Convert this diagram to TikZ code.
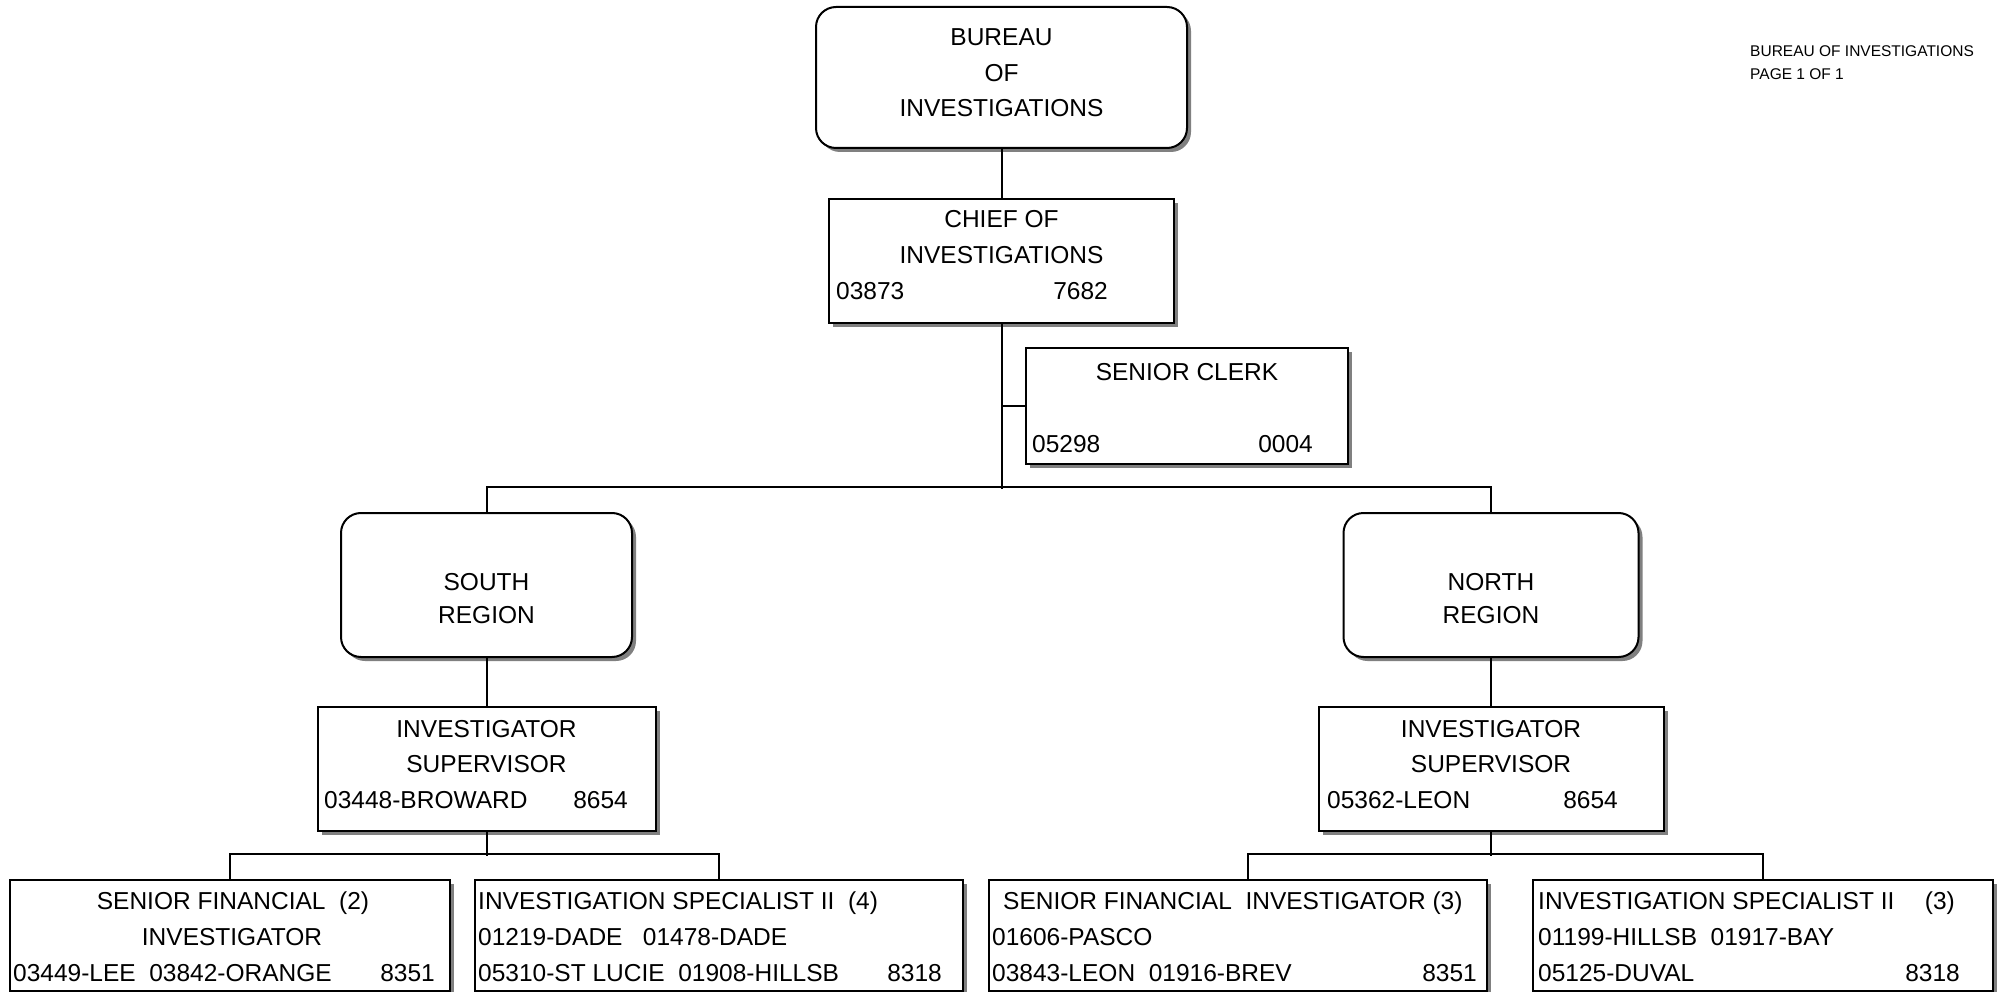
\documentclass[tikz,border=0pt]{standalone}
\usepackage{fontspec}
\setmainfont{Liberation Sans}
\usetikzlibrary{shadows}
\newcommand{\lblfont}{\fontsize{24.5}{35}\selectfont}
\newcommand{\smallfont}{\fontsize{15.5}{20}\selectfont}
\tikzset{
  box/.style={draw, line width=2pt, fill=white, inner sep=0pt,
    drop shadow={fill=black!50, opacity=1, shadow xshift=4pt, shadow yshift=-4pt}},
  rbox/.style={box, rounded corners=20pt},
  lbl/.style={inner sep=0pt, font=\lblfont},
  note/.style={inner sep=0pt, font=\smallfont, anchor=base west},
  wire/.style={line width=2pt},
}
\begin{document}
\begin{tikzpicture}[x=1pt,y=-1pt]
\useasboundingbox (0,0) rectangle (2005,992);

% boxes
\node[rbox, minimum width=371, minimum height=141] (bureau) at (1001.5,77.5) {};
\node[box, minimum width=345, minimum height=124] (chief) at (1001.5,261) {};
\node[box, minimum width=322, minimum height=116] (clerk) at (1187,406) {};
\node[rbox, minimum width=291, minimum height=144] (sreg) at (486.5,585) {};
\node[rbox, minimum width=295, minimum height=144] (nreg) at (1491,585) {};
\node[box, minimum width=338, minimum height=124] (ssup) at (486.5,769) {};
\node[box, minimum width=345, minimum height=124] (nsup) at (1491,769) {};
\node[box, minimum width=440, minimum height=111] (b1) at (230,935.5) {};
\node[box, minimum width=488, minimum height=111] (b2) at (719,935.5) {};
\node[box, minimum width=498, minimum height=111] (b3) at (1238,935.5) {};
\node[box, minimum width=460, minimum height=111] (b4) at (1763,935.5) {};

% connectors
\draw[wire] (bureau.south) -- (chief.north);
\draw[wire] (chief.south) -- ++(0,165) coordinate (trunk);
\draw[wire] (clerk.west) -- (clerk.west -| chief.south);
\draw[wire] (sreg.north) -- ++(0,-25) -| (nreg.north);
\draw[wire] (sreg.south) -- (ssup.north);
\draw[wire] (nreg.south) -- (nsup.north);
\draw[wire] (ssup.south) -- ++(0,24);
\draw[wire] (b1.north) -- ++(0,-25) -| (b2.north);
\draw[wire] (nsup.south) -- ++(0,24);
\draw[wire] ([xshift=10pt]b3.north) -- ++(0,-25) -| (b4.north);

% header note
\node[note] (n1) at (1750,57) {BUREAU OF INVESTIGATIONS};
\node[note] (n2) at (1750,80) {PAGE 1 OF 1};

% bureau
\node[lbl, anchor=base] (bu1) at (1001.5,46) {BUREAU};
\node[lbl, anchor=base] (bu2) at (1001.5,82) {OF};
\node[lbl, anchor=base] (bu3) at (1001.5,117) {INVESTIGATIONS};

% chief
\node[lbl, anchor=base] (ch1) at (1001.5,228) {CHIEF OF};
\node[lbl, anchor=base] (ch2) at (1001.5,264) {INVESTIGATIONS};
\node[lbl, anchor=base west] (ch3) at (836,300) {03873};
\node[lbl, anchor=base east] (ch4) at (1108,300) {7682};

% senior clerk
\node[lbl, anchor=base] (cl1) at (1187,380) {SENIOR CLERK};
\node[lbl, anchor=base west] (cl2) at (1032,452) {05298};
\node[lbl, anchor=base east] (cl3) at (1313,452) {0004};

% regions
\node[lbl, anchor=base] (sr1) at (486.5,590) {SOUTH};
\node[lbl, anchor=base] (sr2) at (486.5,623) {REGION};
\node[lbl, anchor=base] (nr1) at (1491,590) {NORTH};
\node[lbl, anchor=base] (nr2) at (1491,623) {REGION};

% supervisors
\node[lbl, anchor=base] (ss1) at (486.5,737) {INVESTIGATOR};
\node[lbl, anchor=base] (ss2) at (486.5,772) {SUPERVISOR};
\node[lbl, anchor=base west] (ss3) at (324,808) {03448-BROWARD};
\node[lbl, anchor=base east] (ss4) at (628,808) {8654};
\node[lbl, anchor=base] (ns1) at (1491,737) {INVESTIGATOR};
\node[lbl, anchor=base] (ns2) at (1491,772) {SUPERVISOR};
\node[lbl, anchor=base west] (ns3) at (1327,808) {05362-LEON};
\node[lbl, anchor=base east] (ns4) at (1618,808) {8654};

% bottom row
\node[lbl, anchor=base] (a1) at (233,909) {SENIOR FINANCIAL\ \ (2)};
\node[lbl, anchor=base] (a2) at (232,945) {INVESTIGATOR};
\node[lbl, anchor=base west] (a3) at (13,981) {03449-LEE\ \ 03842-ORANGE};
\node[lbl, anchor=base east] (a4) at (435,981) {8351};

\node[lbl, anchor=base west] (c1) at (478,909) {INVESTIGATION SPECIALIST II\ \ (4)};
\node[lbl, anchor=base west] (c2) at (478,945) {01219-DADE\ \ \ 01478-DADE};
\node[lbl, anchor=base west] (c3) at (478,981) {05310-ST LUCIE\ \ 01908-HILLSB};
\node[lbl, anchor=base east] (c4) at (942,981) {8318};

\node[lbl, anchor=base west] (d1) at (1003,909) {SENIOR FINANCIAL\ \ INVESTIGATOR (3)};
\node[lbl, anchor=base west] (d2) at (992,945) {01606-PASCO};
\node[lbl, anchor=base west] (d3) at (992,981) {03843-LEON\ \ 01916-BREV};
\node[lbl, anchor=base east] (d4) at (1477,981) {8351};

\node[lbl, anchor=base west] (e1) at (1538,909) {INVESTIGATION SPECIALIST II};
\node[lbl, anchor=base east] (e2) at (1955,909) {(3)};
\node[lbl, anchor=base west] (e3) at (1538,945) {01199-HILLSB\ \ 01917-BAY};
\node[lbl, anchor=base west] (e4) at (1538,981) {05125-DUVAL};
\node[lbl, anchor=base east] (e5) at (1960,981) {8318};
\end{tikzpicture}
\end{document}
